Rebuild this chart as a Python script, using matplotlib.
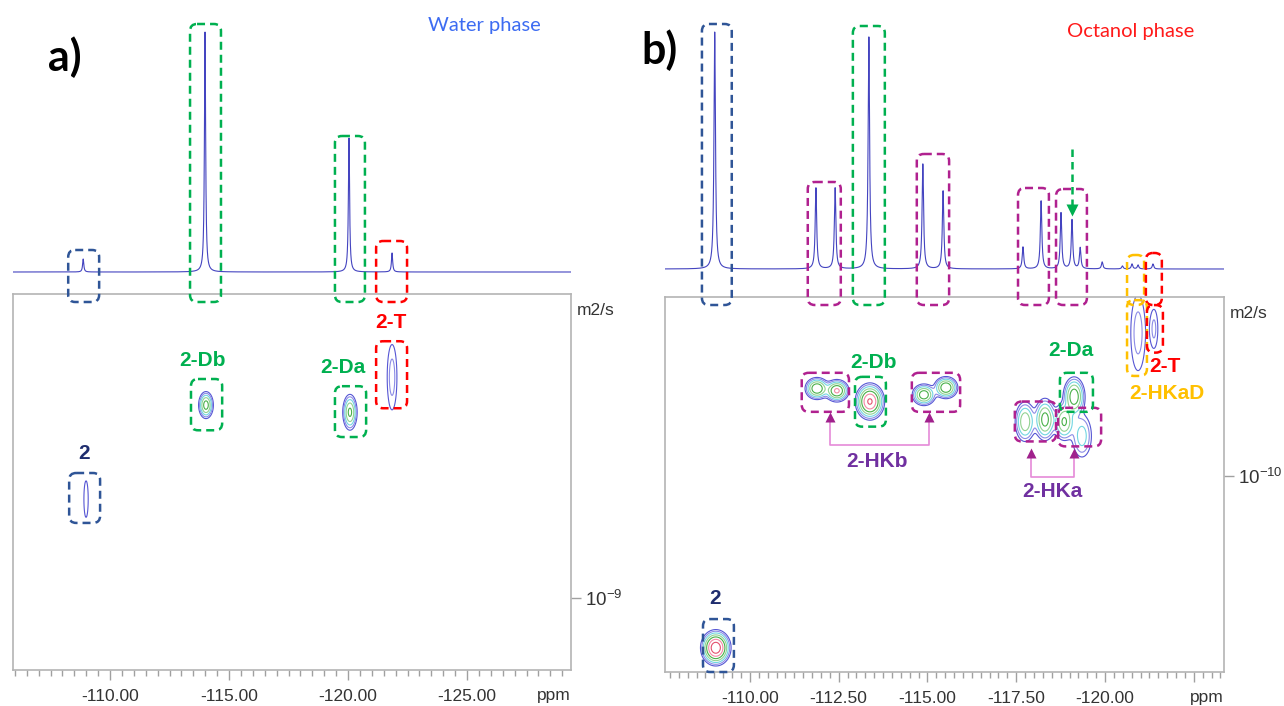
import numpy as np
import matplotlib
matplotlib.use("Agg")
import matplotlib.pyplot as plt
from matplotlib.patches import FancyBboxPatch
from matplotlib.ticker import MultipleLocator, FixedLocator, FuncFormatter, NullLocator

plt.rcParams['font.family'] = ['Liberation Sans', 'DejaVu Sans']
plt.rcParams['mathtext.fontset'] = 'custom'
plt.rcParams['mathtext.rm'] = 'Liberation Sans'
plt.rcParams['mathtext.it'] = 'Liberation Sans:italic'

# ---------------- data ----------------
# a) water phase : 1D 19F spectrum (ppm, height)
a_peak_ppm = [-108.87, -113.99, -120.04, -121.85]
a_peak_int = [13, 240, 134, 19]
# a) DOSY cross peaks (ppm, log10 D, amplitude, width ppm, width logD)
a_dosy_ppm = [-108.99, -114.03, -120.08, -121.85]
a_dosy_logd = [-9.22, -9.429, -9.413, -9.491]
a_dosy_amp = [0.06, 0.40, 0.36, 0.09]
a_dosy_wppm = [0.10, 0.145, 0.145, 0.16]
a_dosy_wlogd = [0.045, 0.014, 0.019, 0.057]

# b) octanol phase
b_peak_ppm = [-109.01, -111.86, -112.40, -113.35, -114.87, -115.44, -117.69, -118.20,
              -118.76, -119.07, -119.30, -119.92, -120.49, -120.76, -120.93, -121.35]
b_peak_int = [237, 81, 81, 232, 105, 78, 22, 68, 56, 49, 21, 7, 3, 5, 4, 5]
b_dosy_ppm = [-109.04, -111.89, -112.45, -113.38, -114.90, -115.52, -117.75, -118.31,
              -118.85, -119.35, -119.13, -120.93, -121.38]
b_dosy_logd = [-9.618, -10.196, -10.191, -10.167, -10.182, -10.198, -10.122, -10.127,
               -10.122, -10.090, -10.178, -10.32, -10.329]
b_dosy_amp = [1.0, 0.5, 0.55, 0.8, 0.45, 0.5, 0.30, 0.40, 0.35, 0.16, 0.45, 0.09, 0.08]
b_dosy_wppm = [0.17, 0.15, 0.15, 0.17, 0.15, 0.15, 0.14, 0.14, 0.14, 0.16, 0.14, 0.16, 0.09]
b_dosy_wlogd = [0.016, 0.011, 0.011, 0.017, 0.011, 0.011, 0.022, 0.022, 0.020, 0.028,
                0.020, 0.066, 0.036]

BLUE = '#2f5597'
GREEN = '#00b050'
RED = '#ff0000'
MAG = '#b0218f'
ORANGE = '#ffc000'
NAVY = '#1f2d6e'
PURPLE = '#7030a0'

# annotation boxes: spectrum (ppm_l, ppm_r, top height, colour)
a_spec_boxes = [(-108.24, -109.54, 22, BLUE), (-113.36, -114.66, 248, GREEN),
                (-119.45, -120.71, 136, GREEN), (-121.18, -122.48, 31, RED)]
b_spec_boxes = [(-108.65, -109.49, 245, BLUE), (-111.63, -112.56, 87, MAG),
                (-112.90, -113.80, 243, GREEN), (-114.70, -115.61, 115, MAG),
                (-117.55, -118.42, 81, MAG), (-118.62, -119.49, 80, MAG),
                (-120.62, -121.10, 14, ORANGE), (-121.15, -121.60, 16, RED)]
# 2D boxes (ppm_l, ppm_r, logD_top, logD_bottom, colour)
a_dosy_boxes = [(-108.28, -109.58, -9.278, -9.167, BLUE), (-113.40, -114.71, -9.487, -9.373, GREEN),
                (-119.45, -120.76, -9.471, -9.358, GREEN), (-121.18, -122.48, -9.571, -9.422, RED)]
b_dosy_boxes = [(-108.68, -109.55, -9.682, -9.564, BLUE), (-111.46, -112.79, -10.231, -10.144, MAG),
                (-112.96, -113.83, -10.222, -10.111, GREEN), (-114.56, -115.92, -10.231, -10.144, MAG),
                (-117.46, -118.62, -10.167, -10.078, MAG), (-118.68, -119.89, -10.153, -10.067, MAG),
                (-118.73, -119.66, -10.231, -10.144, GREEN), (-120.62, -121.18, -10.393, -10.224, ORANGE),
                (-121.18, -121.63, -10.382, -10.276, RED)]
# labels (text, ppm, logD, colour)
a_labels = [('2', -108.9, -9.322, NAVY), ('2-Db', -113.9, -9.529, GREEN),
            ('2-Da', -119.79, -9.513, GREEN), ('2-T', -121.8, -9.613, RED)]
b_labels = [('2', -109.01, -9.727, NAVY), ('2-Db', -113.49, -10.253, GREEN),
            ('2-HKb', -113.58, -10.033, PURPLE), ('2-Da', -119.04, -10.28, GREEN),
            ('2-HKa', -118.51, -9.967, PURPLE), ('2-HKaD', -121.75, -10.184, ORANGE),
            ('2-T', -121.69, -10.244, RED)]
# brackets (ppm_l, ppm_r, logD line, logD tip)
b_brackets = [(-112.25, -115.04, -10.071, -10.142), (-117.92, -119.13, -9.998, -10.062)]

levels = [0.04, 0.07, 0.12, 0.2, 0.32, 0.5, 0.75]
lev_colors = ['#5656d4', '#8c8ce6', '#72d6e2', '#92d292', '#48b048', '#f48aa6', '#e4506e']

W, H = 1284, 706
fig = plt.figure(figsize=(W / 100, H / 100), dpi=100)


def frac(l, t, r, b):
    return [l / W, 1 - b / H, (r - l) / W, (b - t) / H]


def spectrum(ax, xlim, ylim, ppm, hts, hw):
    x = np.linspace(xlim[0], xlim[1], 12000)
    y = np.zeros_like(x)
    for p, h in zip(ppm, hts):
        y += h * hw ** 2 / ((x - p) ** 2 + hw ** 2)
    ax.plot(x, y, color='#4444c0', lw=0.8)
    ax.set_xlim(xlim)
    ax.set_ylim(ylim)
    ax.axis('off')


def dosy(ax, xlim, ylog, ppm, logd, amp, wp, wd, major, minor, dtick, dlabel, hide):
    x = np.linspace(xlim[0], xlim[1], 1600)
    yl = np.linspace(ylog[0], ylog[1], 700)
    X, Y = np.meshgrid(x, yl)
    Z = np.zeros_like(X)
    for p, d, a, sx, sy in zip(ppm, logd, amp, wp, wd):
        Z += a * np.exp(-0.5 * ((X - p) / sx) ** 2 - 0.5 * ((Y - d) / sy) ** 2)
    ax.set_yscale('log')
    ax.contour(X, 10 ** Y, Z, levels=levels, colors=lev_colors, linewidths=0.8)
    ax.set_xlim(xlim)
    ax.set_ylim(10 ** ylog[1], 10 ** ylog[0])
    for s in ax.spines.values():
        s.set_color('#b4b4b4')
        s.set_linewidth(1.2)
    ax.xaxis.set_major_locator(MultipleLocator(major))
    ax.xaxis.set_minor_locator(MultipleLocator(minor))
    ax.xaxis.set_major_formatter(
        FuncFormatter(lambda v, pos: '' if v < hide else '%.2f' % v))
    ax.tick_params(axis='x', which='major', length=7, width=1, color='#a0a0a0',
                   labelsize=12.5, labelcolor='#333333', pad=7)
    ax.tick_params(axis='x', which='minor', length=4, width=1, color='#a0a0a0')
    ax.yaxis.tick_right()
    ax.yaxis.set_major_locator(FixedLocator([dtick]))
    ax.yaxis.set_major_formatter(FuncFormatter(lambda v, pos: dlabel))
    ax.yaxis.set_minor_locator(NullLocator())
    ax.tick_params(axis='y', which='major', length=7, width=1, color='#a0a0a0',
                   labelsize=13.5, labelcolor='#333333', pad=3)
    ax.text(1.0, -0.068, 'ppm', transform=ax.transAxes, ha='right', va='center',
            fontsize=12.5, color='#333333')
    ax.text(1.01, 0.955, 'm2/s', transform=ax.transAxes, ha='left', va='center',
            fontsize=12.5, color='#333333')


# panel a
a_xlim = (-105.92, -129.37)
sp_a = fig.add_axes(frac(13, 20, 571, 290))
spectrum(sp_a, a_xlim, (-18, 252), a_peak_ppm, a_peak_int, 0.03)
ax_a = fig.add_axes(frac(13, 294, 571, 670))
dosy(ax_a, a_xlim, (-9.676, -8.84), a_dosy_ppm, a_dosy_logd, a_dosy_amp, a_dosy_wppm,
     a_dosy_wlogd, 5, 0.5, 1e-9, r'$10^{-9}$', -127)

# panel b
b_xlim = (-107.61, -123.35)
sp_b = fig.add_axes(frac(665, 20, 1224, 290))
spectrum(sp_b, b_xlim, (-21, 249), b_peak_ppm, b_peak_int, 0.025)
ax_b = fig.add_axes(frac(665, 297, 1224, 672))
dosy(ax_b, b_xlim, (-10.4, -9.564), b_dosy_ppm, b_dosy_logd, b_dosy_amp, b_dosy_wppm,
     b_dosy_wlogd, 2.5, 0.25, 1e-10, r'$10^{-10}$', -121)

# overlay in pixel units for the dashed boxes and brackets
ov = fig.add_axes([0, 0, 1, 1])
ov.set_xlim(0, W)
ov.set_ylim(H, 0)
ov.axis('off')
ov.patch.set_alpha(0)


def to_px(ax, x, y):
    return ov.transData.inverted().transform(ax.transData.transform((x, y)))


def dbox(p0, p1, color):
    l, r = sorted([p0[0], p1[0]])
    t, b = sorted([p0[1], p1[1]])
    ov.add_patch(FancyBboxPatch((l, t), r - l, b - t,
                                boxstyle='round,pad=0,rounding_size=7', fill=False,
                                ec=color, lw=1.8, ls=(0, (3.2, 2.0))))


for sp, ax, boxes in [(sp_a, ax_a, a_spec_boxes), (sp_b, ax_b, b_spec_boxes)]:
    top2d = ov.transData.inverted().transform(ax.transAxes.transform((0, 1)))[1]
    for x0, x1, h, c in boxes:
        p0 = to_px(sp, x0, h)
        p1 = to_px(sp, x1, 0)
        dbox(p0, (p1[0], top2d + 8), c)

for ax, boxes in [(ax_a, a_dosy_boxes), (ax_b, b_dosy_boxes)]:
    for x0, x1, d0, d1, c in boxes:
        dbox(to_px(ax, x0, 10 ** d0), to_px(ax, x1, 10 ** d1), c)

for ax, labels in [(ax_a, a_labels), (ax_b, b_labels)]:
    for t, x, d, c in labels:
        ax.text(x, 10 ** d, t, color=c, fontsize=15, fontweight='bold',
                ha='center', va='center', clip_on=False)

for x0, x1, dl, dt in b_brackets:
    pl = to_px(ax_b, x0, 10 ** dl)
    pr = to_px(ax_b, x1, 10 ** dl)
    tl = to_px(ax_b, x0, 10 ** dt)
    tr = to_px(ax_b, x1, 10 ** dt)
    ov.plot([tl[0], pl[0], pr[0], tr[0]], [tl[1] + 6, pl[1], pr[1], tr[1] + 6],
            color='#e58ad8', lw=1.2)
    for tp in (tl, tr):
        ov.plot(tp[0], tp[1] + 4, marker='^', ms=7, color='#a0218c', mec='none')

# green dashed arrow on the octanol spectrum
g0 = to_px(sp_b, -119.07, 120)
g1 = to_px(sp_b, -119.07, 62)
ov.plot([g0[0], g1[0]], [g0[1], g1[1]], color=GREEN, lw=1.8, ls=(0, (3, 2)))
ov.plot(g1[0], g1[1] + 3, marker='v', ms=8, color=GREEN, mec='none')

# panel titles
fig.text(65 / W, 1 - 57 / H, 'a)', fontsize=31, fontweight='bold', ha='center',
         va='center', family=['Lato', 'DejaVu Sans'])
fig.text(660 / W, 1 - 50 / H, 'b)', fontsize=31, fontweight='bold', ha='center',
         va='center', family=['Lato', 'DejaVu Sans'])
fig.text(484 / W, 1 - 25 / H, 'Water phase', fontsize=14.5, color='#3d6cf2',
         ha='center', va='center', family=['Lato', 'DejaVu Sans'])
fig.text(1131 / W, 1 - 32 / H, 'Octanol phase', fontsize=14.5, color='#ff1a1a',
         ha='center', va='center', family=['Lato', 'DejaVu Sans'])

fig.savefig('out.png', dpi=100)
